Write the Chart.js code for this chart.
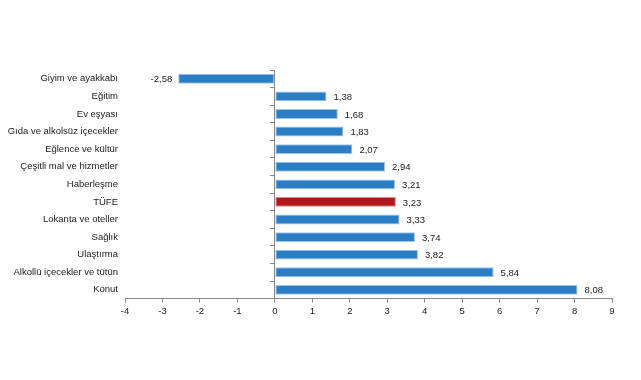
<!DOCTYPE html>
<html>
<head>
<meta charset="utf-8">
<script src="https://cdn.jsdelivr.net/npm/chart.js@4.4.1/dist/chart.umd.min.js"></script>
<style>
html,body{margin:0;padding:0;background:#fff;}
#wrap{width:641px;height:380px;}
</style>
</head>
<body>
<div id="wrap"><canvas id="c" width="641" height="380"></canvas></div>
<script>
const categories = ["Giyim ve ayakkabı","Eğitim","Ev eşyası","Gıda ve alkolsüz içecekler","Eğlence ve kültür","Çeşitli mal ve hizmetler","Haberleşme","TÜFE","Lokanta ve oteller","Sağlık","Ulaştırma","Alkollü içecekler ve tütün","Konut"];
const values = [-2.58,1.38,1.68,1.83,2.07,2.94,3.21,3.23,3.33,3.74,3.82,5.84,8.08];
const xMin = -4, xMax = 9;

const BLUE = '#2b7dc5', BLUE_EDGE = '#9fc6ea', RED = '#b0181d', RED_EDGE = '#d88a8c';
const fmt = v => v.toFixed(2).replace('.', ',');

const labelPlugin = {
  id: 'vals',
  afterDatasetsDraw(chart) {
    const ctx = chart.ctx;
    const meta = chart.getDatasetMeta(0);
    ctx.save();
    ctx.font = '9.5px "Liberation Sans", Arial, sans-serif';
    ctx.fillStyle = '#222';
    ctx.textBaseline = 'middle';
    meta.data.forEach((bar, i) => {
      const v = values[i];
      if (v >= 0) { ctx.textAlign = 'left'; ctx.fillText(fmt(v), bar.x + 7, bar.y + 1); }
      else { ctx.textAlign = 'right'; ctx.fillText(fmt(v), bar.x - 6, bar.y + 1); }
    });
    ctx.restore();
  }
};

new Chart(document.getElementById('c'), {
  type: 'bar',
  data: {
    labels: categories,
    datasets: [{
      data: values,
      backgroundColor: categories.map(c => c === 'TÜFE' ? RED : BLUE),
      borderColor: categories.map(c => c === 'TÜFE' ? RED_EDGE : BLUE_EDGE),
      borderWidth: 1,
      borderSkipped: false,
      barPercentage: 0.56,
      categoryPercentage: 1.0
    }]
  },
  options: {
    indexAxis: 'y',
    responsive: false,
    animation: false,
    devicePixelRatio: 1,
    layout: { padding: { top: 70, right: 29, bottom: 60, left: 0 } },
    plugins: { legend: { display: false }, tooltip: { enabled: false } },
    scales: {
      x: {
        type: 'linear',
        min: xMin, max: xMax,
        ticks: { stepSize: 1, color: '#222', font: { family: '"Liberation Sans", Arial, sans-serif', size: 9.5 }, padding: 3 },
        grid: {
          drawOnChartArea: false,
          tickLength: 4,
          tickColor: '#888'
        },
        border: { color: '#888' }
      },
      y: {
        position: 'left',
        ticks: { color: '#222', font: { family: '"Liberation Sans", Arial, sans-serif', size: 9.5 }, padding: 7 },
        grid: { display: false, drawTicks: false },
        border: { display: false },
        afterFit(scale) { scale.width = 125; }
      },
      y0: {
        axis: 'y',
        type: 'category',
        labels: categories,
        position: { x: 0 },
        offset: true,
        ticks: { display: false },
        grid: { drawOnChartArea: false, offset: true, tickLength: 4, tickColor: '#888' },
        border: { display: true, color: '#888' }
      }
    }
  },
  plugins: [labelPlugin]
});
</script>
</body>
</html>
